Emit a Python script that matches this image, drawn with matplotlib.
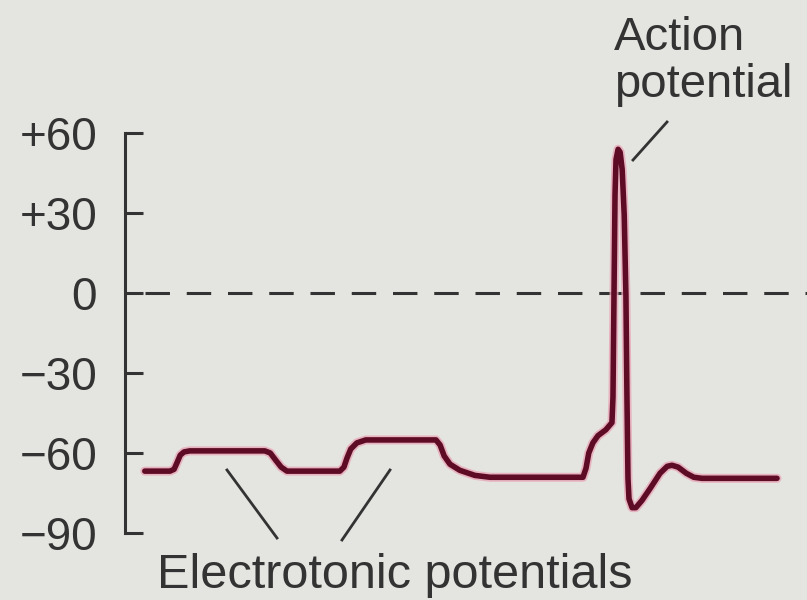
import matplotlib
matplotlib.use("Agg")
import matplotlib.pyplot as plt

# Membrane potential trace (time in arbitrary units, voltage in mV)
time = [2.9, 6.6, 7.2, 7.6, 8.1, 8.65, 9.5, 20.5, 21.3, 22.1, 22.9, 23.75,
        31.5, 32.1, 32.55, 33.1, 34.0, 35.3, 45.6, 46.2, 46.8, 47.65, 49.1, 51.3, 53.5,
        67.15, 67.6, 68.0, 68.6, 69.35, 70.5, 71.4, 71.55, 71.7, 71.85, 72.0, 72.3,
        72.6, 72.9, 73.2, 73.45, 73.6, 73.75, 73.9, 74.35, 74.9, 75.8, 77.0, 78.45,
        79.5, 80.2, 81.1, 82.3, 83.4, 84.6, 95.6]
voltage = [-66.8, -66.8, -66.1, -63.8, -60.8, -59.6, -59.2, -59.2, -60.0, -62.7, -65.3, -66.8,
           -66.8, -65.3, -61.9, -58.5, -56.2, -55.1, -55.1, -57.0, -61.1, -64.2, -66.5, -68.4, -69.1,
           -69.1, -65.7, -60.0, -56.2, -53.5, -51.3, -48.6, -39.1, -1.1, 36.8, 50.1, 53.9,
           52.8, 46.3, 29.2, -1.1, -39.1, -69.5, -77.2, -80.5, -80.5, -77.8, -73.3, -67.6,
           -65.0, -64.6, -65.3, -67.6, -69.1, -69.5, -69.5]

yticks = [60, 30, 0, -30, -60, -90]
ytick_labels = ["+60", "+30", "0", "\u221230", "\u221260", "\u221290"]

bg = "#e4e5e0"
ink = "#333333"
trace = "#5e0b26"
font = "Liberation Sans"

fig = plt.figure(figsize=(8.07, 6.0), dpi=100, facecolor=bg)
ax = fig.add_axes([125/807, 1-533/600, 682/807, 400/600], facecolor=bg)
ax.set_xlim(0, 100)
ax.set_ylim(-90, 60)

# zero line
ax.plot([2.9, 100], [0, 0], color=ink, lw=2.2, dashes=(8, 5.5), clip_on=False)

# trace with soft halo
ax.plot(time, voltage, color="#e9a7b8", lw=6.5, solid_joinstyle="round",
        solid_capstyle="round", clip_on=False, alpha=0.8)
ax.plot(time, voltage, color=trace, lw=4.0, solid_joinstyle="round",
        solid_capstyle="round", clip_on=False)

for s in ["top", "right", "bottom"]:
    ax.spines[s].set_visible(False)
ax.spines["left"].set_color(ink)
ax.spines["left"].set_linewidth(2.2)
ax.set_xticks([])
ax.set_yticks(yticks)
ax.set_yticklabels(ytick_labels)
ax.tick_params(axis="y", direction="in", length=13, width=2.2, color=ink,
               pad=20, labelsize=33, labelcolor=ink)
for lab in ax.get_yticklabels():
    lab.set_family(font)

# annotations
fig.text(614/807, 1-50/600, "Action", fontsize=34, color=ink,
         family=font, ha="left", va="baseline")
fig.text(614/807, 1-97/600, "potential", fontsize=34, color=ink,
         family=font, ha="left", va="baseline")
fig.text(395/807, 1-588/600, "Electrotonic potentials", fontsize=35, color=ink,
         family=font, ha="center", va="baseline")

def px_line(x0, y0, x1, y1):
    fig.add_artist(plt.Line2D([x0/807, x1/807], [1-y0/600, 1-y1/600],
                              color=ink, lw=2.0, transform=fig.transFigure))

px_line(633, 160, 667, 122)
px_line(227, 470, 277, 538)
px_line(390, 470, 342, 540)

fig.savefig("out.png", dpi=100, facecolor=bg)
